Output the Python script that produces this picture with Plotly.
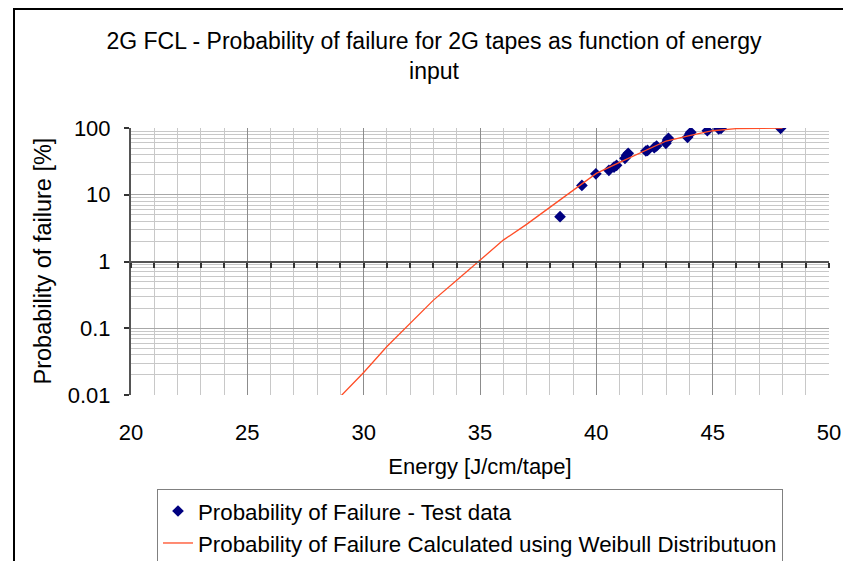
import plotly.graph_objects as go

# Test data (energy J/cm/tape, probability of failure %)
test_energy = [38.44, 39.38, 39.98, 40.54, 40.76, 40.87, 41.23, 41.30, 41.37,
               42.13, 42.20, 42.49, 42.59, 42.99, 43.06, 43.10, 43.92, 44.02,
               44.06, 44.77, 45.26, 45.36, 47.92]
test_prob = [4.7, 13.8, 20.6, 23.2, 26.0, 27.6, 35.1, 38.9, 41.7,
             45.2, 46.2, 50.7, 53.7, 58.9, 66.1, 70.0, 72.5, 81.3,
             86.2, 91.0, 96.6, 98.5, 99.0]

# Weibull curve
curve_energy = [29, 30, 31, 32, 33, 34, 35, 36, 37, 38, 39, 40, 41, 42, 43, 44, 45, 46, 47, 48]
curve_prob = [0.0095, 0.0217, 0.0533, 0.119, 0.264, 0.524, 1.04, 2.09, 3.6, 6.5,
              11.4, 20.9, 30.6, 44.2, 63.8, 76.7, 91.0, 97.6, 99.5, 99.9]

x_ticks = [20, 25, 30, 35, 40, 45, 50]
y_ticks = [0.01, 0.1, 1, 10, 100]
y_tick_text = ["0.01", "0.1", "1", "10", "100"]

title_text = "2G FCL - Probability of failure for 2G tapes as function of energy<br>input"
y_title = "Probability of failure [%]"
FONT = "Liberation Sans, Arial, sans-serif"
FS = 22

W, H = 843, 561
L, R, T, B = 131, 14, 128, 166
PW, PH = W - L - R, H - T - B

fig = go.Figure()
fig.add_trace(go.Scatter(
    x=test_energy, y=test_prob, mode="markers",
    name="Probability of Failure - Test data",
    marker=dict(symbol="diamond", size=9, color="#000080"),
))
fig.add_trace(go.Scatter(
    x=curve_energy, y=curve_prob, mode="lines",
    name="Probability of Failure Calculated using Weibull Distributuon",
    line=dict(color="#FF4D26", width=1.3),
    xaxis="x2", yaxis="y",
))

minor_y = [m * 10 ** e for e in range(-2, 2) for m in range(2, 10)]

fig.update_layout(
    width=W, height=H,
    margin=dict(l=L, r=R, t=T, b=B, pad=0, autoexpand=False),
    paper_bgcolor="white", plot_bgcolor="white",
    font=dict(family=FONT, size=FS, color="black"),
    title=dict(text=title_text, x=434 / W, xanchor="center", xref="container",
               y=1 - 49 / H, yanchor="top", yref="container",
               font=dict(size=23)),
    showlegend=True,
    legend=dict(
        xref="container", yref="container",
        x=157 / W, xanchor="left",
        y=1 - 489 / H, yanchor="top",
        bordercolor="#808080", borderwidth=1, bgcolor="white",
        font=dict(size=22.3), tracegroupgap=0, itemwidth=30,
    ),
    xaxis=dict(
        range=[20, 50], tickmode="array", tickvals=x_ticks, automargin=True,
        showgrid=True, gridcolor="#8c8c8c", gridwidth=1,
        minor=dict(dtick=1, showgrid=True, gridcolor="#c8c8c8", gridwidth=1),
        showline=False, zeroline=False, ticks="",
        ticklabelstandoff=22, tickfont=dict(size=FS),
        title=dict(text="Energy [J/cm/tape]", standoff=14, font=dict(size=FS)),
    ),
    xaxis2=dict(
        range=[20, 50], overlaying="x", anchor="free", position=0.5, side="bottom",
        showgrid=False, showticklabels=False, zeroline=False, automargin=False,
        showline=True, linecolor="#555555", linewidth=2,
        ticks="outside", ticklen=5, tickwidth=1.5, tickcolor="#333333", dtick=1, tick0=20,
    ),
    yaxis=dict(
        type="log", range=[-2, 2], tickmode="array", tickvals=y_ticks, ticktext=y_tick_text,
        automargin=False,
        showgrid=True, gridcolor="#a8a8a8", gridwidth=1,
        minor=dict(tickmode="array", tickvals=minor_y, showgrid=True, gridcolor="#c8c8c8", gridwidth=1, ticks=""),
        showline=True, linecolor="#555555", linewidth=2,
        ticks="outside", ticklen=5, tickcolor="#333333", tickwidth=1.5,
        ticklabelstandoff=9, tickfont=dict(size=FS),
        zeroline=False,
    ),
    annotations=[dict(
        text=y_title, textangle=-90, showarrow=False,
        xref="paper", yref="paper", x=(42 - L) / PW, y=0.5,
        xanchor="center", yanchor="middle", font=dict(size=23.5),
    )],
)

# Outer chart border (extends beyond the right/bottom edges like the original)
fig.add_shape(type="rect", xref="paper", yref="paper",
              x0=(14 - L) / PW, x1=(860 - L) / PW,
              y0=(H - B - 580) / PH, y1=(H - B - 9) / PH,
              line=dict(color="black", width=2), fillcolor="rgba(0,0,0,0)", layer="above")

fig.write_html("out.html")
